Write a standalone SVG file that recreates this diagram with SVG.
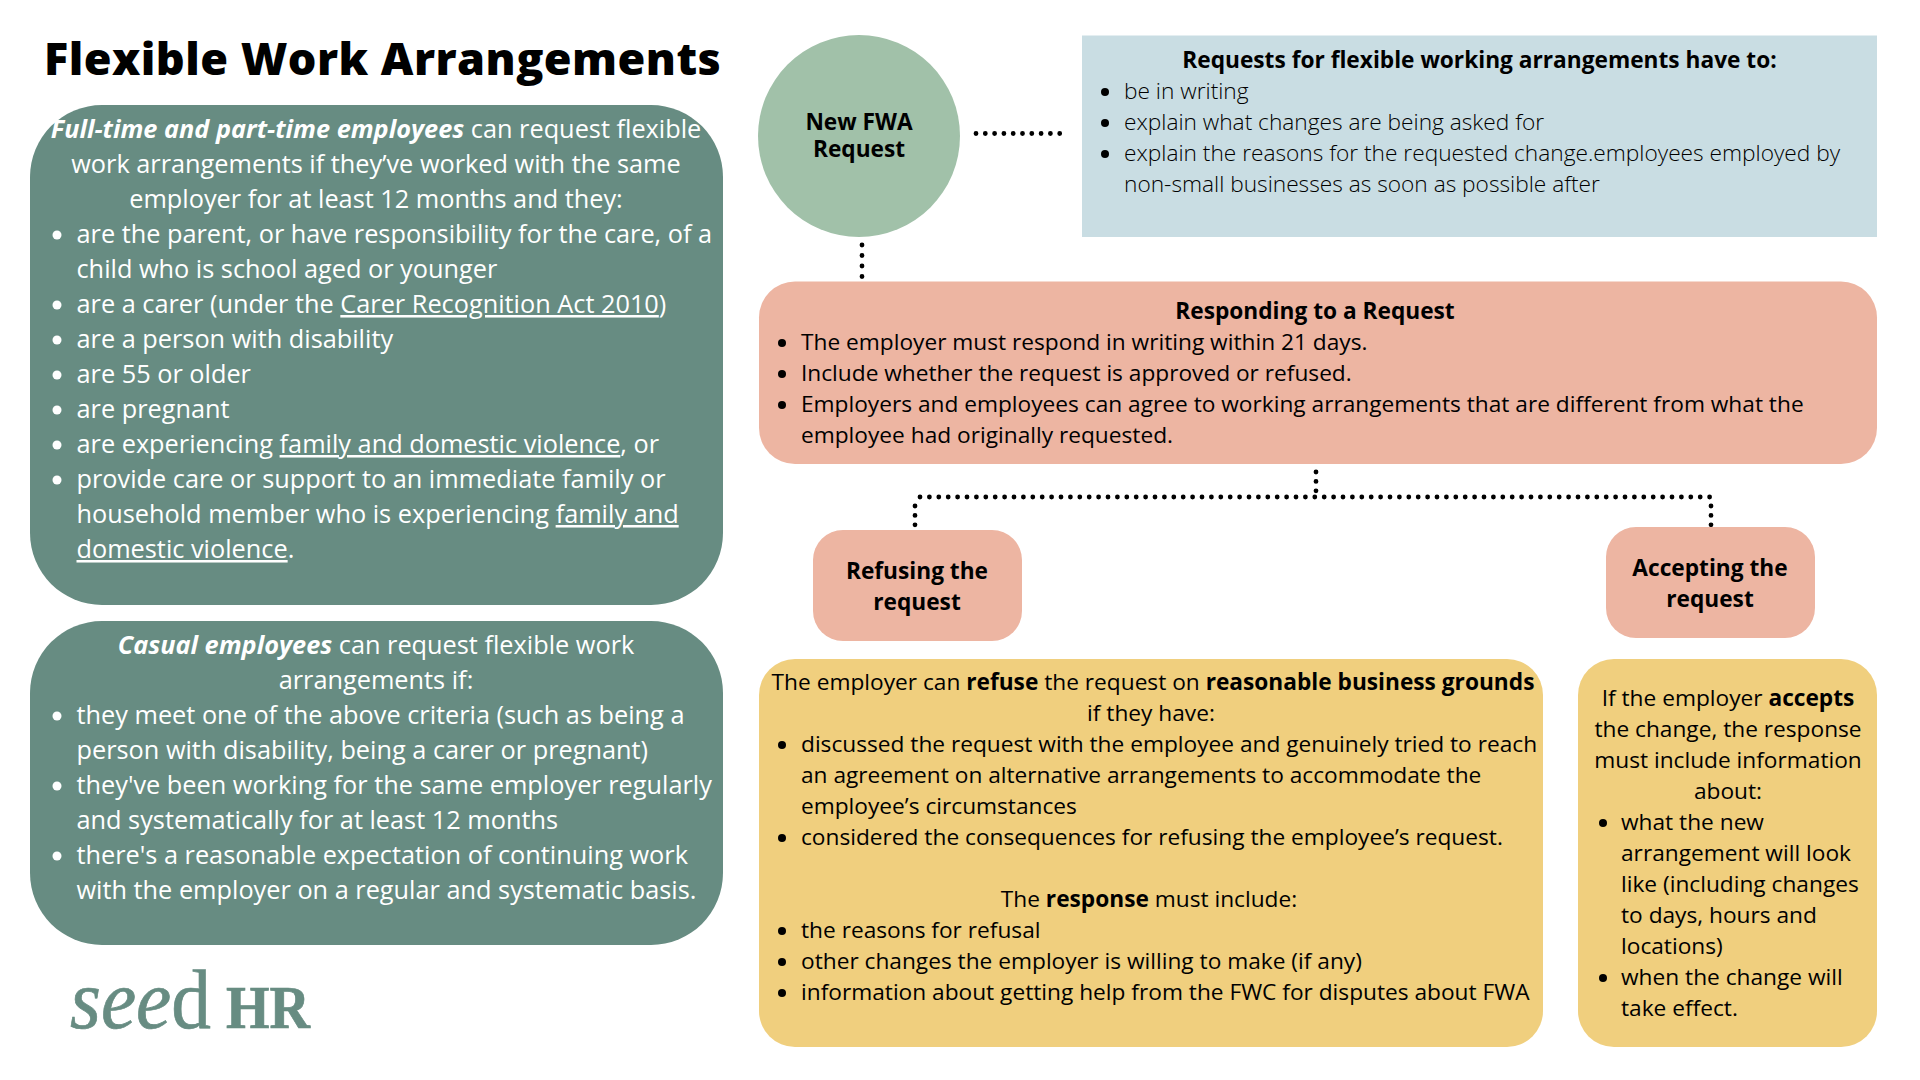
<svg xmlns="http://www.w3.org/2000/svg" width="1920" height="1080" viewBox="0 0 1920 1080">
<style>
text{font-family:"Open Sans","Noto Sans",sans-serif;fill:#000;font-size:22.7px}
.w text,text.w{fill:#fff}
.m{text-anchor:middle}
.s{font-size:25.3px}
.r{font-size:22.7px}
.l{font-weight:300}
.b{font-weight:700}
.bi{font-weight:700;font-style:italic}
.u{text-decoration:underline}
.wb{fill:#fff}
.green{fill:#678c82}
.pink{fill:#edb5a2}
.yel{fill:#f0cf7e}
.lg{font-family:"Liberation Serif",serif;fill:#678c82;stroke:#678c82;stroke-width:.7px}
.dots{fill:none;stroke:#000;stroke-width:4.8;stroke-linecap:round;stroke-dasharray:0 9.4}
</style>
<rect width="1920" height="1080" fill="#fff"/>
<g id="connectors">
<path class="dots" style="stroke-dasharray:0 9.300" d="M976 133.500H1061"/>
<path class="dots" style="stroke-dasharray:0 10.500" d="M862 245V278"/>
<path class="dots" d="M1316 472V497"/>
<path class="dots" d="M920 497H1711"/>
<path class="dots" d="M915 506V527"/>
<path class="dots" d="M1711 506V527"/>
</g>
<text id="title" x="44" y="75" style="font-size:45px;font-weight:800;letter-spacing:.45px">Flexible Work Arrangements</text>
<g id="fulltime" class="w">
<rect class="green" x="30" y="105" width="693" height="500" rx="72"/>
<text class="m s" x="376" y="137.500"><tspan class="bi">Full-time and part-time employees</tspan> can request flexible</text>
<text class="m s" x="376" y="173">work arrangements if they’ve worked with the same</text>
<text class="m s" x="376" y="208">employer for at least 12 months and they:</text>
<text class="s" x="76.500" y="243">are the parent, or have responsibility for the care, of a</text>
<text class="s" x="76.500" y="278">child who is school aged or younger</text>
<text class="s" x="76.500" y="313">are a carer (under the <tspan class="u">Carer Recognition Act 2010</tspan>)</text>
<text class="s" x="76.500" y="348">are a person with disability</text>
<text class="s" x="76.500" y="383">are 55 or older</text>
<text class="s" x="76.500" y="418">are pregnant</text>
<text class="s" x="76.500" y="453">are experiencing <tspan class="u">family and domestic violence</tspan>, or</text>
<text class="s" x="76.500" y="488">provide care or support to an immediate family or</text>
<text class="s" x="76.500" y="523">household member who is experiencing <tspan class="u">family and</tspan></text>
<text class="s" x="76.500" y="558"><tspan class="u">domestic violence</tspan>.</text>
<g class="wb"><circle cx="57" cy="235" r="4.500"/><circle cx="57" cy="305" r="4.500"/><circle cx="57" cy="340" r="4.500"/><circle cx="57" cy="375" r="4.500"/><circle cx="57" cy="410" r="4.500"/><circle cx="57" cy="445" r="4.500"/><circle cx="57" cy="480" r="4.500"/></g>
</g>
<g id="casual" class="w">
<rect class="green" x="30" y="621" width="693" height="324" rx="72"/>
<text class="m s" x="376" y="654"><tspan class="bi">Casual employees</tspan> can request flexible work</text>
<text class="m s" x="376" y="689">arrangements if:</text>
<text class="s" x="76.500" y="724">they meet one of the above criteria (such as being a</text>
<text class="s" x="76.500" y="759">person with disability, being a carer or pregnant)</text>
<text class="s" x="76.500" y="794">they've been working for the same employer regularly</text>
<text class="s" x="76.500" y="829">and systematically for at least 12 months</text>
<text class="s" x="76.500" y="864">there's a reasonable expectation of continuing work</text>
<text class="s" x="76.500" y="899">with the employer on a regular and systematic basis.</text>
<g class="wb"><circle cx="57" cy="716" r="4.500"/><circle cx="57" cy="786" r="4.500"/><circle cx="57" cy="856" r="4.500"/></g>
</g>
<g id="logo">
<text class="lg" x="70" y="1028" textLength="141" lengthAdjust="spacingAndGlyphs" style="font-size:85px"><tspan font-style="italic">see</tspan>d</text>
<text class="lg" x="226" y="1028" textLength="84" lengthAdjust="spacingAndGlyphs" style="font-size:62px;font-weight:700">HR</text>
</g>
<g id="new-fwa">
<circle cx="859" cy="136" r="101" fill="#a1c1a9"/>
<text class="m r b" x="859" y="130">New FWA</text>
<text class="m r b" x="859" y="157">Request</text>
</g>
<g id="requirements">
<rect x="1082" y="35.500" width="795" height="201.500" fill="#c9dde3"/>
<text class="m r b" x="1479.500" y="68">Requests for flexible working arrangements have to:</text>
<text class="r l" x="1124" y="99">be in writing</text>
<text class="r l" x="1124" y="130">explain what changes are being asked for</text>
<text class="r l" x="1124" y="161">explain the reasons for the requested change.employees employed by</text>
<text class="r l" x="1124" y="192">non-small businesses as soon as possible after</text>
<circle cx="1105" cy="92" r="4"/><circle cx="1105" cy="123" r="4"/><circle cx="1105" cy="154" r="4"/>
</g>
<g id="responding">
<rect class="pink" x="759" y="281.500" width="1118" height="182.500" rx="36"/>
<text class="m r b" x="1315" y="319">Responding to a Request</text>
<text class="r" x="801" y="350">The employer must respond in writing within 21 days.</text>
<text class="r" x="801" y="381">Include whether the request is approved or refused.</text>
<text class="r" x="801" y="412">Employers and employees can agree to working arrangements that are different from what the</text>
<text class="r" x="801" y="443">employee had originally requested.</text>
<circle cx="782" cy="343" r="4"/><circle cx="782" cy="374" r="4"/><circle cx="782" cy="405" r="4"/>
</g>
<g id="refusing">
<rect class="pink" x="813" y="530" width="209" height="111" rx="30"/>
<text class="m r b" x="917" y="579">Refusing the</text>
<text class="m r b" x="917" y="610">request</text>
</g>
<g id="accepting">
<rect class="pink" x="1606" y="527" width="209" height="111" rx="30"/>
<text class="m r b" x="1710" y="576">Accepting the</text>
<text class="m r b" x="1710" y="607">request</text>
</g>
<g id="refuse-detail">
<rect class="yel" x="759" y="659" width="784" height="388" rx="36"/>
<text class="m r" x="1153" y="690">The employer can <tspan class="b">refuse</tspan> the request on <tspan class="b">reasonable business grounds</tspan></text>
<text class="m r" x="1151" y="721">if they have:</text>
<text class="r" x="801" y="752">discussed the request with the employee and genuinely tried to reach</text>
<text class="r" x="801" y="783">an agreement on alternative arrangements to accommodate the</text>
<text class="r" x="801" y="814">employee’s circumstances</text>
<text class="r" x="801" y="845">considered the consequences for refusing the employee’s request.</text>
<text class="m r" x="1149" y="907">The <tspan class="b">response</tspan> must include:</text>
<text class="r" x="801" y="938">the reasons for refusal</text>
<text class="r" x="801" y="969">other changes the employer is willing to make (if any)</text>
<text class="r" x="801" y="1000">information about getting help from the FWC for disputes about FWA</text>
<circle cx="782" cy="745" r="4"/><circle cx="782" cy="838" r="4"/><circle cx="782" cy="931" r="4"/><circle cx="782" cy="962" r="4"/><circle cx="782" cy="993" r="4"/>
</g>
<g id="accept-detail">
<rect class="yel" x="1578" y="659" width="299" height="388" rx="36"/>
<text class="m r" x="1728" y="706">If the employer <tspan class="b">accepts</tspan></text>
<text class="m r" x="1728" y="737">the change, the response</text>
<text class="m r" x="1728" y="768">must include information</text>
<text class="m r" x="1728" y="799">about:</text>
<text class="r" x="1621" y="830">what the new</text>
<text class="r" x="1621" y="861">arrangement will look</text>
<text class="r" x="1621" y="892">like (including changes</text>
<text class="r" x="1621" y="923">to days, hours and</text>
<text class="r" x="1621" y="954">locations)</text>
<text class="r" x="1621" y="985">when the change will</text>
<text class="r" x="1621" y="1016">take effect.</text>
<circle cx="1603" cy="823" r="4"/><circle cx="1603" cy="978" r="4"/>
</g>
</svg>
